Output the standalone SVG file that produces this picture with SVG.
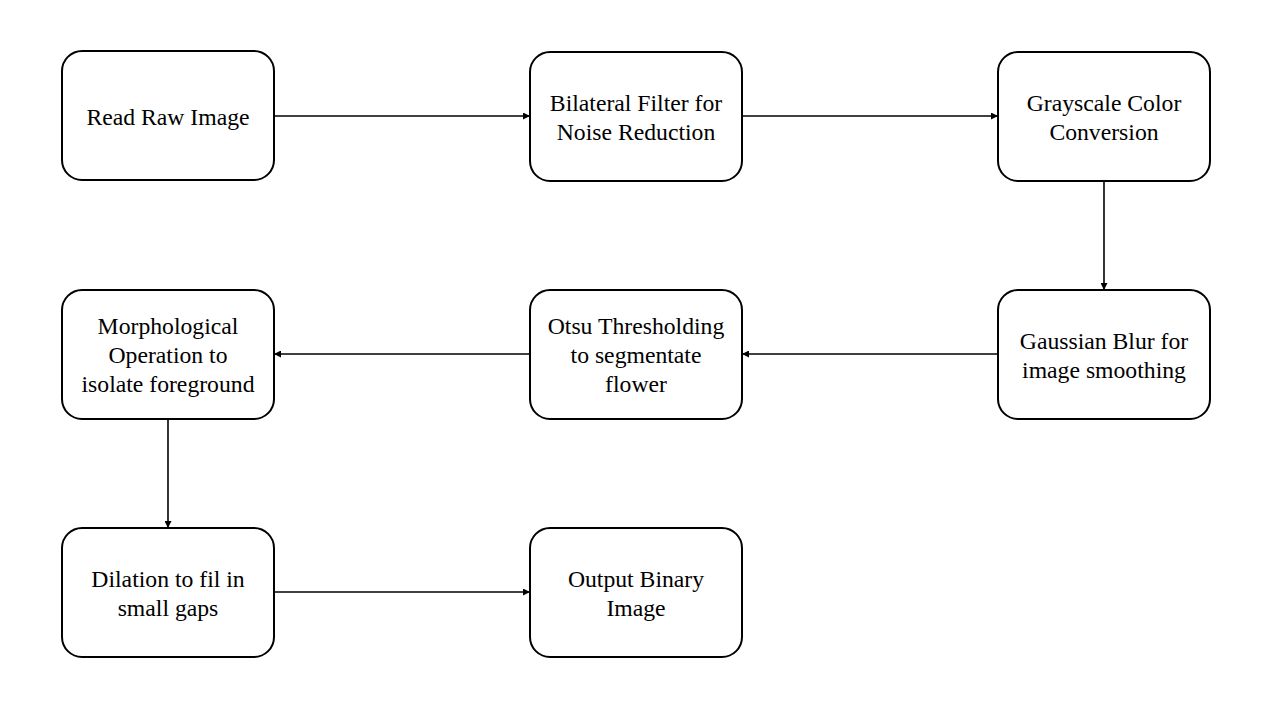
<svg xmlns="http://www.w3.org/2000/svg" width="1280" height="720" viewBox="0 0 1280 720">
<defs>
<marker id="ah" viewBox="0 0 10 10" refX="10" refY="5" markerWidth="8" markerHeight="7" markerUnits="userSpaceOnUse" orient="auto">
<path d="M0,0 L10,5 L0,10 z" fill="#000"/>
</marker>
<style>
.box{fill:#fff;stroke:#000;stroke-width:2}
.t{font-family:"Liberation Serif","Times New Roman",serif;font-size:23.7px;fill:#000;text-anchor:middle}
.c{stroke:#000;stroke-width:1.6;fill:none;marker-end:url(#ah)}
</style>
</defs>
<rect width="1280" height="720" fill="#fff"/>
<g id="connectors">
<line class="c" x1="274" y1="116" x2="530" y2="116"/>
<line class="c" x1="742" y1="116" x2="998" y2="116"/>
<line class="c" x1="1104" y1="181" x2="1104" y2="290"/>
<line class="c" x1="998" y1="354" x2="742" y2="354"/>
<line class="c" x1="530" y1="354" x2="274" y2="354"/>
<line class="c" x1="168" y1="419" x2="168" y2="528"/>
<line class="c" x1="274" y1="592" x2="530" y2="592"/>
</g>
<g id="n1"><rect class="box" x="62" y="51" width="212" height="129" rx="20"/><text class="t" x="168" y="125">Read Raw Image</text></g>
<g id="n2"><rect class="box" x="530" y="52" width="212" height="129" rx="20"/><text class="t" x="636" y="111">Bilateral Filter for</text><text class="t" x="636" y="140">Noise Reduction</text></g>
<g id="n3"><rect class="box" x="998" y="52" width="212" height="129" rx="20"/><text class="t" x="1104" y="111">Grayscale Color</text><text class="t" x="1104" y="140">Conversion</text></g>
<g id="n4"><rect class="box" x="62" y="290" width="212" height="129" rx="20"/><text class="t" x="168" y="334">Morphological</text><text class="t" x="168" y="363">Operation to</text><text class="t" x="168" y="392">isolate foreground</text></g>
<g id="n5"><rect class="box" x="530" y="290" width="212" height="129" rx="20"/><text class="t" x="636" y="334">Otsu Thresholding</text><text class="t" x="636" y="363">to segmentate</text><text class="t" x="636" y="392">flower</text></g>
<g id="n6"><rect class="box" x="998" y="290" width="212" height="129" rx="20"/><text class="t" x="1104" y="349">Gaussian Blur for</text><text class="t" x="1104" y="378">image smoothing</text></g>
<g id="n7"><rect class="box" x="62" y="528" width="212" height="129" rx="20"/><text class="t" x="168" y="587">Dilation to fil in</text><text class="t" x="168" y="616">small gaps</text></g>
<g id="n8"><rect class="box" x="530" y="528" width="212" height="129" rx="20"/><text class="t" x="636" y="587">Output Binary</text><text class="t" x="636" y="616">Image</text></g>
</svg>
